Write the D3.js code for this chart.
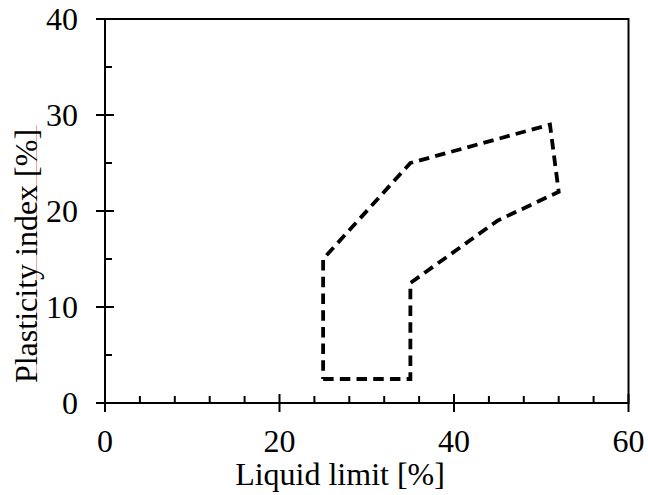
<!DOCTYPE html>
<meta charset="utf-8">
<style>
body { margin: 0; background: #fff; }
text { font-family: "Liberation Serif", "Times New Roman", serif; fill: #000; }
</style>
<body>
<svg width="648" height="495"></svg>
<script src="https://d3js.org/d3.v7.min.js"></script>
<script>
// boundary of the zone (liquid limit vs plasticity index)
var liquidLimit = [25, 35, 35, 45, 52, 51, 35, 25, 25];
var plasticityIndex = [2.5, 2.5, 12.5, 19, 22, 29, 25, 15, 2.5];

var xMajor = [0, 20, 40, 60];
var xMinor = [4, 8, 12, 16, 24, 28, 32, 36, 44, 48, 52, 56];
var yMajor = [0, 10, 20, 30, 40];
var yMinor = [5, 15, 25, 35];

var svg = d3.select("svg");

var x = d3.scaleLinear().domain([0, 60]).range([105, 628.5]);
var y = d3.scaleLinear().domain([0, 40]).range([403, 19]);

var axisColor = "#000";

// frame
svg.append("rect")
    .attr("x", x(0))
    .attr("y", y(40))
    .attr("width", x(60) - x(0))
    .attr("height", y(0) - y(40))
    .attr("fill", "none")
    .attr("stroke", axisColor)
    .attr("stroke-width", 2);

// x ticks
svg.selectAll(".xmajor")
  .data(xMajor)
  .enter().append("line")
    .attr("x1", function(d) { return x(d); })
    .attr("x2", function(d) { return x(d); })
    .attr("y1", y(0) - 9)
    .attr("y2", y(0) + 9)
    .attr("stroke", axisColor)
    .attr("stroke-width", 2);

svg.selectAll(".xminor")
  .data(xMinor)
  .enter().append("line")
    .attr("x1", function(d) { return x(d); })
    .attr("x2", function(d) { return x(d); })
    .attr("y1", y(0) - 7)
    .attr("y2", y(0))
    .attr("stroke", axisColor)
    .attr("stroke-width", 2);

svg.selectAll(".xlabel")
  .data(xMajor)
  .enter().append("text")
    .attr("x", function(d) { return x(d); })
    .attr("y", 452)
    .attr("text-anchor", "middle")
    .style("font-size", "32px")
    .text(function(d) { return d; });

// y ticks
svg.selectAll(".ymajor")
  .data(yMajor)
  .enter().append("line")
    .attr("x1", x(0) - 9)
    .attr("x2", x(0) + 9)
    .attr("y1", function(d) { return y(d); })
    .attr("y2", function(d) { return y(d); })
    .attr("stroke", axisColor)
    .attr("stroke-width", 2);

svg.selectAll(".yminor")
  .data(yMinor)
  .enter().append("line")
    .attr("x1", x(0))
    .attr("x2", x(0) + 7)
    .attr("y1", function(d) { return y(d); })
    .attr("y2", function(d) { return y(d); })
    .attr("stroke", axisColor)
    .attr("stroke-width", 2);

svg.selectAll(".ylabel")
  .data(yMajor)
  .enter().append("text")
    .attr("x", 78)
    .attr("y", function(d) { return y(d); })
    .attr("dy", "0.35em")
    .attr("text-anchor", "end")
    .style("font-size", "32px")
    .text(function(d) { return d; });

// axis titles
svg.append("text")
    .attr("x", 340)
    .attr("y", 485)
    .attr("text-anchor", "middle")
    .style("font-size", "32px")
    .text("Liquid limit [%]");

// faint spell-check mark under the y title
svg.append("line")
    .attr("x1", 36.5).attr("x2", 36.5)
    .attr("y1", 125).attr("y2", 381)
    .attr("stroke", "#f4a5a5")
    .attr("stroke-width", 1);

svg.append("text")
    .attr("transform", "translate(37,256) rotate(-90)")
    .attr("text-anchor", "middle")
    .style("font-size", "32px")
    .text("Plasticity index [%]");

// dashed zone boundary
var pts = liquidLimit.map(function(d, i) { return [d, plasticityIndex[i]]; });
var line = d3.line()
    .x(function(d) { return x(d[0]); })
    .y(function(d) { return y(d[1]); });

svg.append("path")
    .datum(pts)
    .attr("d", line)
    .attr("fill", "none")
    .attr("stroke", "#000")
    .attr("stroke-width", 3.8)
    .attr("stroke-dasharray", "10.5,6.2");
</script>
</body>
</html>
